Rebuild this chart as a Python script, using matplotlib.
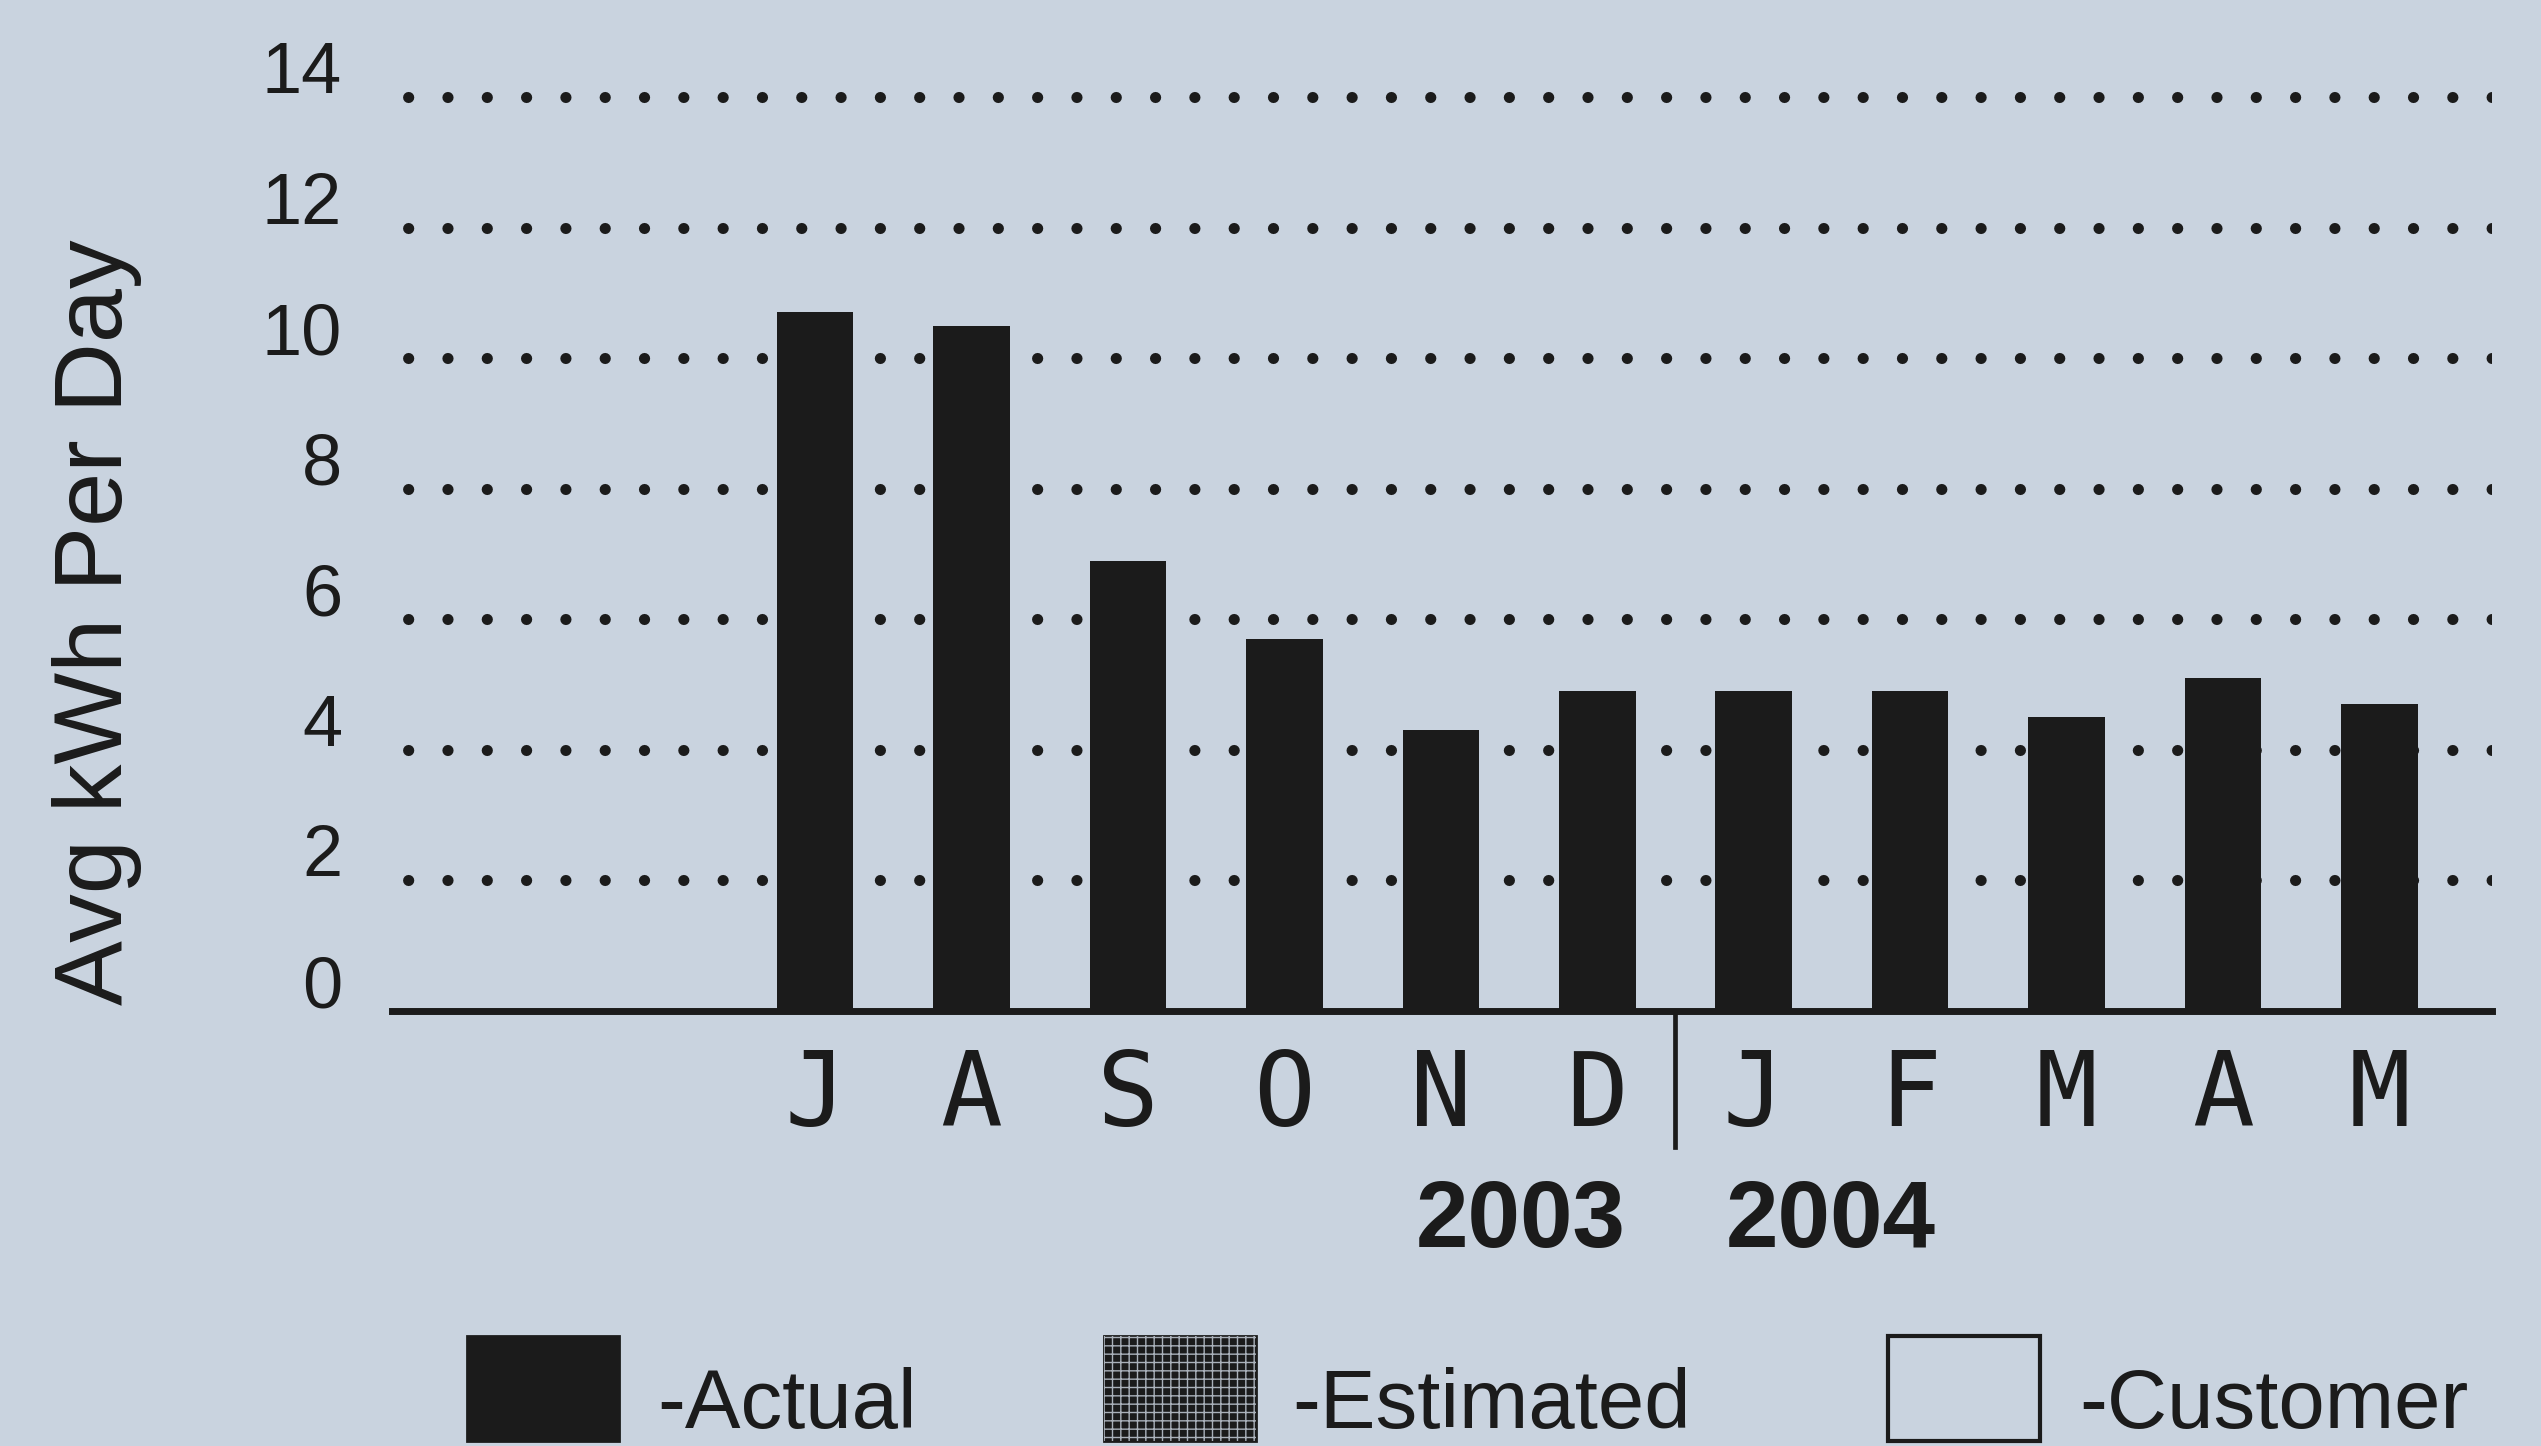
import numpy as np
import matplotlib
matplotlib.use("Agg")
import matplotlib.pyplot as plt
from matplotlib.patches import Rectangle
import matplotlib.transforms as mtransforms

# ---------------- data ----------------
months = ["J", "A", "S", "O", "N", "D", "J", "F", "M", "A", "M"]
kwh_per_day = [10.7, 10.5, 6.9, 5.7, 4.3, 4.9, 4.9, 4.9, 4.5, 5.1, 4.7]
years = ["2003", "2004"]
y_ticks = [0, 2, 4, 6, 8, 10, 12, 14]
y_label = "Avg kWh Per Day"
legend_labels = ["-Actual", "-Estimated", "-Customer"]
empty_slots = 2          # two leading months without readings
year_break_after = 5     # index of "D" (last month of 2003)

BG = "#c9d3df"
INK = "#1b1b1b"
SANS = ["Liberation Sans", "DejaVu Sans"]
MONO = ["DejaVu Sans Mono"]

plt.rcParams["font.family"] = SANS

W, H = 2541, 1446
fig = plt.figure(figsize=(W / 100, H / 100), dpi=100, facecolor=BG)

# axes geometry (pixels in reference)
x_left, x_right = 392, 2492
y_zero, y_14 = 1011, 97
ppu = (y_zero - y_14) / 14.0
ymax = 14.5
y_top = y_zero - ymax * ppu
ax = fig.add_axes([x_left / W, 1 - y_zero / H, (x_right - x_left) / W, (y_zero - y_top) / H])
ax.set_facecolor(BG)

x = np.arange(len(months)) + empty_slots
ax.bar(x, kwh_per_day, width=0.49, color=INK, zorder=2)

ax.set_xlim(-0.705, 12.72)
ax.set_ylim(0, ymax)

# dotted horizontal gridlines
ax.set_axisbelow(True)
ax.set_yticks(y_ticks)
lw_dot = 8.0
period_pt = 39.2 * 0.72
first_dot_pt = 16 * 0.72
ax.yaxis.grid(True, color=INK, linewidth=lw_dot,
              linestyle=((period_pt - first_dot_pt) / lw_dot, (0.01, period_pt / lw_dot)),
              dash_capstyle="round")
ax.xaxis.grid(False)
for val, gl in zip(y_ticks, ax.yaxis.get_gridlines()):
    if val == 0:
        gl.set_visible(False)

for s in ["left", "top", "right"]:
    ax.spines[s].set_visible(False)
ax.spines["bottom"].set_linewidth(5)
ax.spines["bottom"].set_color(INK)
ax.spines["bottom"].set_zorder(3)

ax.tick_params(axis="y", length=0, pad=36, labelsize=52, labelcolor=INK)
for t in ax.get_yticklabels():
    t.set_verticalalignment("baseline")
    t.set_transform(t.get_transform() + mtransforms.ScaledTranslation(0, 0.04, fig.dpi_scale_trans))

ax.set_xticks(x, months)
ax.tick_params(axis="x", length=0, pad=25, labelcolor=INK)
for t in ax.get_xticklabels():
    t.set_fontfamily(MONO)
    t.set_fontsize(74)

# year divider below the axis
div_x = year_break_after + empty_slots + 0.5
ax.axvline(div_x, ymin=-(1147 - y_zero) / (y_zero - y_top), ymax=0,
           color=INK, linewidth=3.4, clip_on=False)

# year labels
btr = mtransforms.blended_transform_factory(ax.transData, fig.transFigure)
for yr, dx in zip(years, [-0.99, 0.99]):
    fig.text(div_x + dx, 1 - 1222 / H, yr, transform=btr, ha="center", va="center",
             fontsize=68, fontweight="bold", color=INK)

# y label
fig.text(122 / W, 1 - 622 / H, y_label, rotation=90, rotation_mode="anchor",
         ha="center", va="baseline", fontsize=70, color=INK)

# legend (manual)
box_x = [467, 1104, 1888]
box_w = 152
box_top, box_bot = 1336, 1441
text_x = [657, 1292, 2079]
styles = [
    dict(facecolor=INK, edgecolor=INK, linewidth=2),
    dict(facecolor=INK, edgecolor=INK, linewidth=2),
    dict(facecolor="none", edgecolor=INK, linewidth=3),
]
plt.rcParams["hatch.linewidth"] = 1.0
for bx, st, lab, tx in zip(box_x, styles, legend_labels, text_x):
    r = Rectangle((bx / W, 1 - box_bot / H), box_w / W, (box_bot - box_top) / H,
                  transform=fig.transFigure, **st)
    fig.add_artist(r)
    if lab == "-Estimated":
        hr = Rectangle((bx / W, 1 - box_bot / H), box_w / W, (box_bot - box_top) / H,
                       transform=fig.transFigure, facecolor="none",
                       edgecolor="#aab1ba", linewidth=0, hatch="++")
        fig.add_artist(hr)
    fig.text(tx / W, 1 - 1428 / H, lab, ha="left", va="baseline",
             fontsize=60, color=INK)

fig.savefig("out.png", dpi=100, facecolor=BG)
